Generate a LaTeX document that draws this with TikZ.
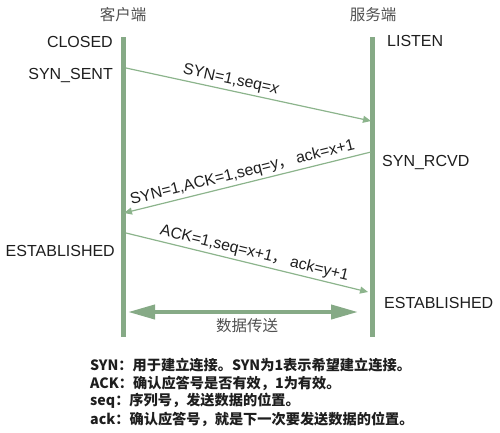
\documentclass[tikz,border=0pt]{standalone}
\usepackage{fontspec}
\setmainfont{Liberation Sans}
\newfontfamily\cjk{Noto Sans CJK SC}
\usetikzlibrary{arrows.meta}
\definecolor{life}{RGB}{134,170,134}
\definecolor{msg}{RGB}{140,180,140}
\definecolor{txt}{RGB}{30,30,30}
\definecolor{head}{RGB}{80,80,80}
\begin{document}
\begin{tikzpicture}[x=1pt,y=-1pt,
  lifeline/.style={draw=life,line width=4.5pt},
  msgline/.style={draw=msg,line width=1.2pt,-{Triangle[length=8pt,width=7pt]}},
  state/.style={font=\fontsize{16}{18}\selectfont,text=txt,inner sep=0pt},
  msglabel/.style={font=\fontsize{15.8}{18}\selectfont,text=txt,sloped,above,inner sep=2.5pt},
  header/.style={font=\cjk\fontsize{15.5}{18}\selectfont,text=head,inner sep=0pt},
  legend/.style={font=\cjk\bfseries\fontsize{14.2}{16}\selectfont,text=txt,inner sep=0pt,anchor=west}]
\useasboundingbox (0,0) rectangle (500,432);
% lifelines
\coordinate (cTop) at (123.5,37);
\coordinate (cBot) at (123.5,337);
\coordinate (sTop) at (372.5,37);
\coordinate (sBot) at (372.5,337);
\draw[lifeline] (cTop) -- (cBot);
\draw[lifeline] (sTop) -- (sBot);
% headers
\node[header] (hc) at (123,15) {客户端};
\node[header] (hs) at (373,15) {服务端};
% states
\node[state,anchor=east] (closed) at (113,42) {CLOSED};
\node[state,anchor=east] (synsent) at (113,75) {SYN\_SENT};
\node[state,anchor=west] (listen) at (387,41) {LISTEN};
\node[state,anchor=west] (synrcvd) at (382,162) {SYN\_RCVD};
\node[state,anchor=east] (estc) at (115,251) {ESTABLISHED};
\node[state,anchor=west] (ests) at (384,303) {ESTABLISHED};
% message endpoints
\coordinate (m1s) at (126,68);
\coordinate (m1e) at (371,121);
\coordinate (m2s) at (371,152);
\coordinate (m2e) at (124,213);
\coordinate (m3s) at (126,233);
\coordinate (m3e) at (368,292);
\draw[msgline] (m1s) -- node[msglabel,pos=0.42] (l1) {SYN=1,seq=\textit{x}} (m1e);
\draw[msgline] (m2s) -- node[msglabel,pos=0.51] (l2) {SYN=1,ACK=1,seq=y{\cjk ，}\,ack=x+1} (m2e);
\draw[msgline] (m3s) -- node[msglabel,pos=0.52] (l3) {ACK=1,seq=x+1{\cjk ，}\,ack=y+1} (m3e);
% data transfer
\coordinate (d1) at (128,312);
\coordinate (d2) at (358,312);
\draw[draw=life,line width=4pt,{Triangle[length=27pt,width=14pt]}-{Triangle[length=27pt,width=14pt]}] (d1) -- (d2);
\node[header] (data) at (247,326) {数据传送};
% legend
\node[legend] (lg1) at (90,365) {SYN：用于建立连接。SYN为1表示希望建立连接。};
\node[legend] (lg2) at (90,383) {ACK：确认应答号是否有效，1为有效。};
\node[legend] (lg3) at (90,401) {seq：序列号，发送数据的位置。};
\node[legend] (lg4) at (90,419) {ack：确认应答号，就是下一次要发送数据的位置。};
\end{tikzpicture}
\end{document}
